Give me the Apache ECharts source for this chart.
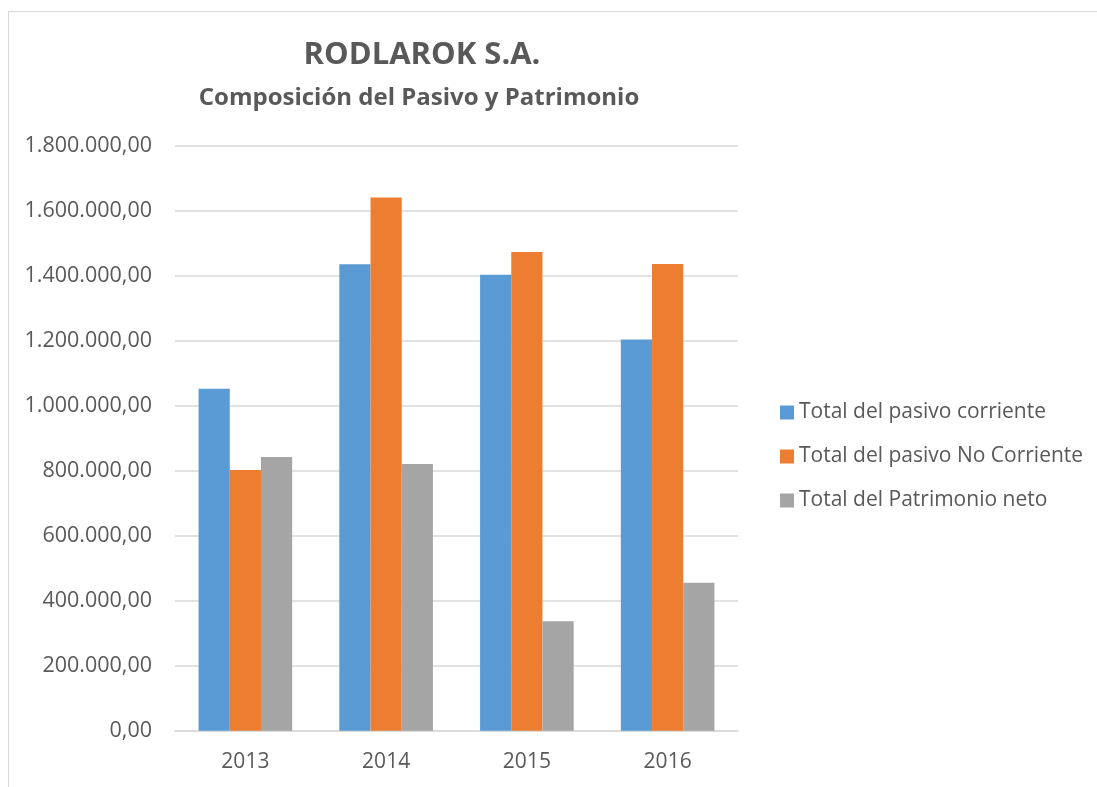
<!DOCTYPE html>
<html>
	<head>
		<title>RODLAROK S.A.</title>
		<script src="https://cdn.jsdelivr.net/npm/echarts@6/dist/echarts.min.js"></script>
	</head>
	<body style="margin:0;padding:0;background:#fff">
		<div style="position:absolute;left:8px;top:11px;width:1200px;height:900px;border:1px solid #d9d9d9;"></div>
		<div id="main" style="position:absolute;left:0;top:0;width:1097px;height:787px;"></div>
	</body>
	<script type="text/javascript">
var myChart = echarts.init(document.getElementById('main'));

// datos
var years = ['2013', '2014', '2015', '2016'];
var pasivoCorriente = [1052000, 1435000, 1403000, 1204000];
var pasivoNoCorriente = [802000, 1641000, 1473000, 1436000];
var patrimonioNeto = [842000, 821000, 337000, 455000];
var seriesNames = ['Total del pasivo corriente', 'Total del pasivo No Corriente', 'Total del Patrimonio neto'];
var colorList = ['#5B9BD5', '#ED7D31', '#A5A5A5'];

function fmt(v) {
    var s = Math.round(v).toString().replace(/\B(?=(\d{3})+(?!\d))/g, '.');
    return s + ',00';
}

var textColor = '#595959';
var font = 'Open Sans';

var option = {
    animation: false,
    color: colorList,
    title: [{
        text: 'RODLAROK S.A.',
        left: 417,
        top: 35,
        textAlign: 'center',
        textStyle: { fontFamily: font, fontSize: 31, fontWeight: 'bold', color: textColor }
    }, {
        text: 'Composición del Pasivo y Patrimonio',
        left: 414,
        top: 81,
        textAlign: 'center',
        textStyle: { fontFamily: font, fontSize: 24, fontWeight: 'bold', color: textColor }
    }],
    legend: {
        orient: 'vertical',
        left: 775,
        top: 393,
        itemWidth: 14,
        itemHeight: 14,
        itemGap: 15,
        icon: 'rect',
        textStyle: { fontFamily: font, fontSize: 21, lineHeight: 29, color: textColor }
    },
    grid: {
        left: 175,
        right: 359,
        top: 145.7,
        bottom: 56.3
    },
    xAxis: {
        type: 'category',
        data: years,
        axisLine: { lineStyle: { color: '#D9D9D9', width: 1.5 } },
        axisTick: { show: false },
        axisLabel: { fontFamily: font, fontSize: 21, color: textColor, margin: 21 }
    },
    yAxis: {
        type: 'value',
        min: 0,
        max: 1800000,
        interval: 200000,
        axisLine: { show: false },
        axisTick: { show: false },
        splitLine: { lineStyle: { color: '#D9D9D9', width: 1.5 } },
        axisLabel: { fontFamily: font, fontSize: 21.5, color: textColor, margin: 23, formatter: fmt }
    },
    series: [{
        name: seriesNames[0],
        type: 'bar',
        data: pasivoCorriente,
        barGap: '0%',
        barCategoryGap: '33.5%'
    }, {
        name: seriesNames[1],
        type: 'bar',
        data: pasivoNoCorriente,
        barGap: '0%',
        barCategoryGap: '33.5%'
    }, {
        name: seriesNames[2],
        type: 'bar',
        data: patrimonioNeto,
        barGap: '0%',
        barCategoryGap: '33.5%'
    }]
};
myChart.setOption(option);
	</script>
</html>
